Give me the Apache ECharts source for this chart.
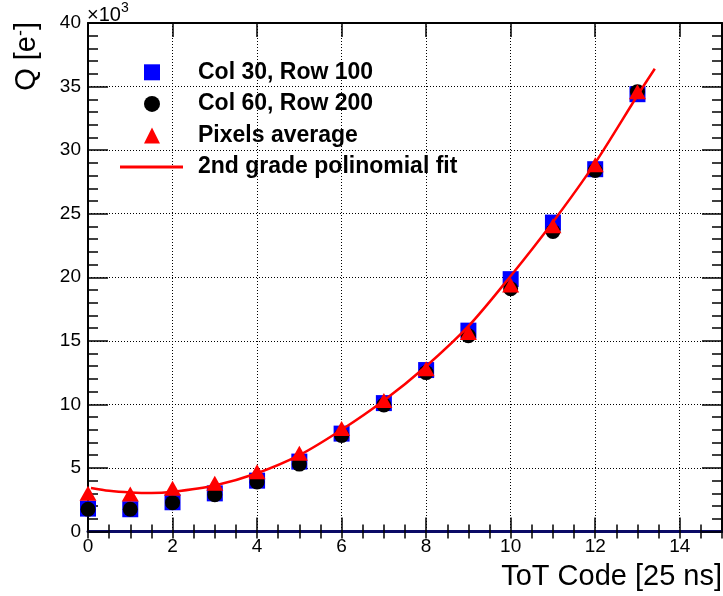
<!DOCTYPE html>
<html>
<head>
<meta charset="utf-8">
<script src="https://cdn.jsdelivr.net/npm/echarts@6/dist/echarts.min.js"></script>
<style>html,body{margin:0;padding:0;background:#fff}#c{width:723px;height:596px}</style>
</head>
<body>
<div id="c"></div>
<script>
// Data (Q in units of 10^3 electrons)
const totCode = [0, 1, 2, 3, 4, 5, 6, 7, 8, 9, 10, 11, 12, 13];
const col30Row100 = [1.8, 1.75, 2.3, 3.0, 4.0, 5.5, 7.7, 10.1, 12.7, 15.8, 19.85, 24.3, 28.5, 34.4];
const col60Row200 = [1.75, 1.75, 2.27, 2.9, 3.9, 5.3, 7.55, 9.95, 12.5, 15.4, 19.1, 23.6, 28.4, 34.6];
const pixelsAverage = [3.0, 2.95, 3.4, 3.8, 4.7, 6.15, 8.1, 10.3, 12.8, 15.65, 19.4, 24.05, 28.85, 34.6];
const fitTot = [0.07, 0.5, 1, 1.5, 2, 3, 4, 5, 6, 7, 8, 9, 10, 11, 12, 13, 13.41];
const fitQ = [3.42, 3.2, 3.07, 3.02, 3.12, 3.62, 4.58, 6.0, 8.0, 10.3, 13.0, 16.15, 20.1, 24.35, 29.0, 34.3, 36.4];
const seriesNames = ['Col 30, Row 100', 'Col 60, Row 200', 'Pixels average', '2nd grade polinomial fit'];

const FONT = '"Liberation Sans", Arial, Helvetica, sans-serif';
const zip = (xs, ys) => xs.map((x, i) => [x, ys[i]]);

const chart = echarts.init(document.getElementById('c'), null, {renderer: 'canvas'});

const baseX = {type: 'value', min: 0, max: 15, gridIndex: 0};
const baseY = {type: 'value', min: 0, max: 40, gridIndex: 0};
const dotted = {show: true, lineStyle: {color: '#000', width: 1, type: [1, 2]}};
const legendText = {fontFamily: FONT, fontSize: 23, fontWeight: 'bold', color: '#000', lineHeight: 31.6};
const legendTop = 56.5;

const option = {
  animation: false,
  backgroundColor: '#fff',
  grid: {left: 88, top: 23, width: 634, height: 508.5, containLabel: false},
  xAxis: [
    Object.assign({}, baseX, {
      position: 'bottom', interval: 2,
      axisLine: {show: true, onZero: false, lineStyle: {color: '#0a0a66', width: 3}},
      axisTick: {show: true, inside: true, length: 14, lineStyle: {color: '#000', width: 1.5}},
      axisLabel: {show: true, margin: 6, fontSize: 19, fontFamily: FONT, color: '#000', showMaxLabel: false},
      splitLine: dotted
    }),
    Object.assign({}, baseX, {
      position: 'bottom', interval: 0.5,
      axisLine: {show: false}, axisLabel: {show: false}, splitLine: {show: false},
      axisTick: {show: true, inside: true, length: 7, lineStyle: {color: '#000', width: 1.5}}
    }),
    Object.assign({}, baseX, {
      position: 'top', interval: 2,
      axisLine: {show: true, onZero: false, lineStyle: {color: '#000', width: 2}},
      axisTick: {show: true, inside: true, length: 14, lineStyle: {color: '#000', width: 1.5}},
      axisLabel: {show: false}, splitLine: {show: false}
    }),
    Object.assign({}, baseX, {
      position: 'top', interval: 0.5,
      axisLine: {show: false}, axisLabel: {show: false}, splitLine: {show: false},
      axisTick: {show: true, inside: true, length: 7, lineStyle: {color: '#000', width: 1.5}}
    })
  ],
  yAxis: [
    Object.assign({}, baseY, {
      position: 'left', interval: 5,
      axisLine: {show: true, onZero: false, lineStyle: {color: '#000', width: 2}},
      axisTick: {show: true, inside: true, length: 20, lineStyle: {color: '#000', width: 1.5}},
      minorTick: {show: true, splitNumber: 5, length: 10, lineStyle: {color: '#000', width: 1.5}},
      axisLabel: {show: true, margin: 7, fontSize: 19, fontFamily: FONT, color: '#000'},
      splitLine: dotted
    }),
    Object.assign({}, baseY, {
      position: 'right', interval: 5,
      axisLine: {show: true, onZero: false, lineStyle: {color: '#000', width: 2}},
      axisTick: {show: true, inside: true, length: 20, lineStyle: {color: '#000', width: 1.5}},
      minorTick: {show: true, splitNumber: 5, length: 10, lineStyle: {color: '#000', width: 1.5}},
      axisLabel: {show: false}, splitLine: {show: false}
    })
  ],
  legend: [
    {
      orient: 'vertical', left: 144, top: legendTop, padding: 0,
      itemWidth: 16, itemHeight: 16, itemGap: 0, selectedMode: false,
      data: [
        {name: seriesNames[0], icon: 'rect'},
        {name: seriesNames[1], icon: 'circle'},
        {name: seriesNames[2], icon: 'triangle'}
      ],
      textStyle: Object.assign({padding: [0, 0, 0, 33]}, legendText)
    },
    {
      orient: 'vertical', left: 120, top: legendTop + 3 * 31.6, padding: 0,
      itemWidth: 63, itemHeight: 3, itemGap: 0, selectedMode: false,
      data: [{name: seriesNames[3], icon: 'rect', itemStyle: {color: '#ff0000'}}],
      textStyle: Object.assign({padding: [0, 0, 0, 10]}, legendText)
    }
  ],
  series: [
    {name: seriesNames[0], type: 'scatter', symbol: 'rect', symbolSize: 16, silent: true,
     itemStyle: {color: '#0000ff', opacity: 1}, data: zip(totCode, col30Row100)},
    {name: seriesNames[1], type: 'scatter', symbol: 'circle', symbolSize: 15, silent: true,
     itemStyle: {color: '#000000', opacity: 1}, data: zip(totCode, col60Row200)},
    {name: seriesNames[2], type: 'scatter', symbol: 'triangle', symbolSize: [17, 15], silent: true,
     itemStyle: {color: '#ff0000', opacity: 1}, data: zip(totCode, pixelsAverage)},
    {name: seriesNames[3], type: 'line', smooth: 0.3, symbol: 'none', showSymbol: false, silent: true,
     color: '#ff0000', lineStyle: {color: '#ff0000', width: 2.5}, data: zip(fitTot, fitQ)}
  ],
  graphic: [
    {type: 'text', x: 722, y: 576.5, silent: true,
     style: {text: 'ToT Code [25 ns]', font: '29px ' + FONT, fill: '#000', align: 'right', verticalAlign: 'middle'}},
    {type: 'text', x: 27, y: 22, rotation: Math.PI / 2, silent: true,
     style: {text: 'Q [e{s|-}]', font: '29px ' + FONT, fill: '#000', align: 'right', verticalAlign: 'middle',
             rich: {s: {fontSize: 18, fontFamily: FONT, fill: '#000', verticalAlign: 'top'}}}},
    {type: 'text', x: 87, y: 15.5, silent: true,
     style: {text: '×10', font: '20px ' + FONT, fill: '#000', align: 'left', verticalAlign: 'middle'}},
    {type: 'text', x: 121, y: 8, silent: true,
     style: {text: '3', font: '14px ' + FONT, fill: '#000', align: 'left', verticalAlign: 'middle'}}
  ]
};
chart.setOption(option);
</script>
</body>
</html>
